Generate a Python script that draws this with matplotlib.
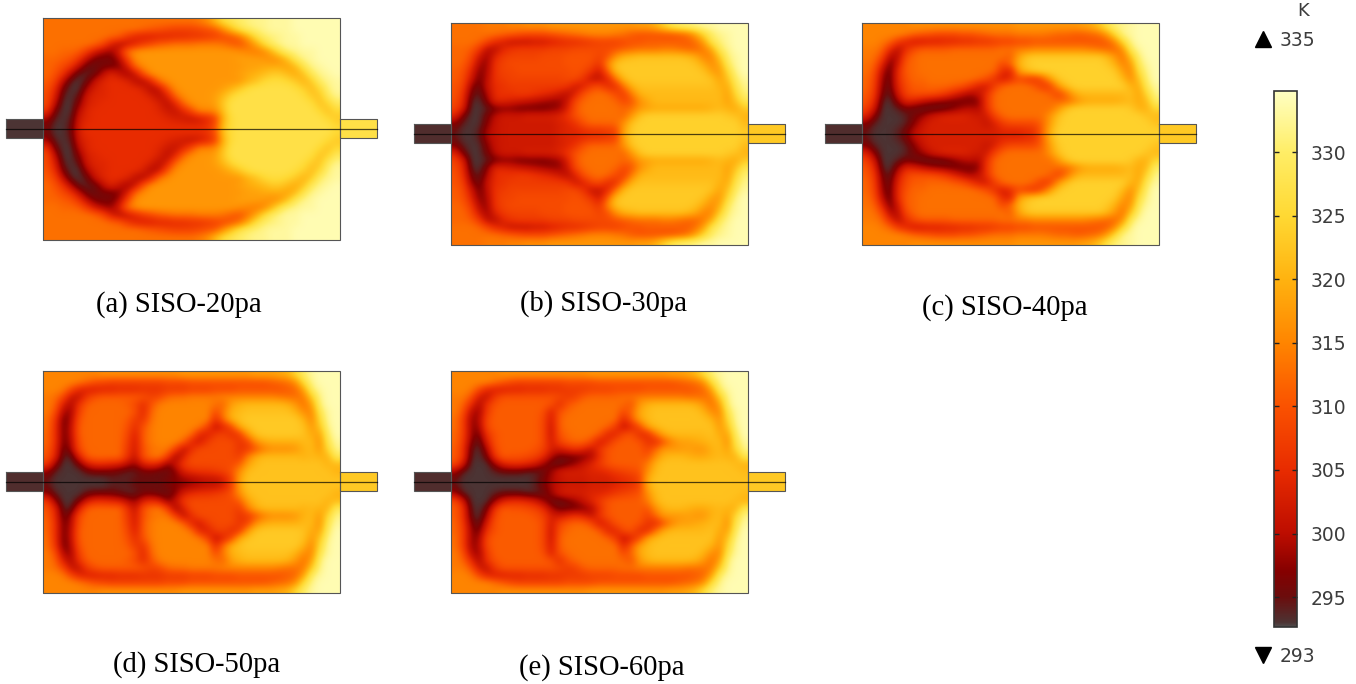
import numpy as np
import matplotlib
matplotlib.use("Agg")
import matplotlib.pyplot as plt
from matplotlib.colors import LinearSegmentedColormap, Normalize
from matplotlib.cm import ScalarMappable

# temperature (K), upper half of each plate, top row first (15 rows x 37 columns)
T_20 = [
 [313]*19+[314,316,321,326,328,330,331,332,332,333,333,333,334,334,334,334,334,334],
 [313]*12+[312,311,310,309,308,308,308,309,310,311,316,322,327,330,331,332,333,333,333,334,334,334,334,334,334],
 [313]*8+[312,311,307,304,303,303,304,304,305,305,306,306,307,308,309,310,313,319,326,330,331,332,333,333,334,334,334,334,334],
 [313]*6+[312,309,303,300,301,304,307,309,311,312,313,313,313,314,314,314,313,311,310,313,318,325,330,332,333,333,334,334,334,334,334],
 [313,313,312,312,311,307,302,299,298,303,313,316,317,317,317,317,317,317,317,317,317,317,317,317,316,315,314,315,320,327,331,332,333,333,334,334,334],
 [312,312,311,310,306,300,296,296,296,299,308,316]+[317]*12+[318,318,318,317,316,317,322,329,332,333,334,334,334],
 [312,311,309,306,300,295,295,296,296,297,302,312,316]+[317]*12+[318,318,319,319,319,318,321,328,332,333,334,334],
 [312,310,306,299,294,294,295,300,304,301,298,301,310,316]+[317]*10+[318,319,320,321,323,323,321,319,322,329,332,333,334],
 [311,308,300,294,293,295,301,304,305,305,304,300,299,304,313,316]+[317]*9+[320,322,325,326,326,325,323,320,323,330,332,333],
 [310,305,296,293,293,299,303,304,305,305,305,305,303,299,301,310,316,317,317,317,317,317,318,320,323,326,327,327,327,327,327,326,324,321,325,331,333],
 [309,303,294,293,295,302,304,304,305,305,305,305,305,303,300,303,312,316,317,317,317,318,321,325,327]+[327]*7+[326,323,322,329,332],
 [309,300,293,293,297,303,304,305,305,305,305,305,305,305,303,300,304,312,316,317,317,318,323,327]+[327]*9+[326,322,324,329],
 [306,296,293,293,300,304]+[305]*8+[304,302,301,304,309,315,315,316,322,327]+[327]*10+[325,322,325],
 [299,294,293,294,302,304]+[305]*9+[304,303,302,301,302,304,308,320,326]+[327]*11+[325,323],
 [296,293,293,295,303,305]+[305]*14+[306,310,322,326]+[327]*12+[325],
]
T_30 = [
 [313]*4+[314]*3+[315]*2+[316]*3+[317]*11+[318,318,320,324,328,330,331,332,333,333,334,334,334,334],
 [313]*6+[312,311,310,309,309,309,310,311,312,313,314,315,315,315,314,313,311,310,310,310,310,310,311,313,318,325,330,332,333,334,334],
 [313,313,313,312,309,305,303,301,301,301,302,302,303,304,305,305,306,307,308,308,308,309,310,310,311,311,311,311,311,311,313,318,328,331,333,334,334],
 [312,312,311,307,300,300,304,306,307,307,307,307,308,308,308,309,309,309,309,309,310,311,312,313,313,313,314,314,313,312,312,314,319,329,332,334,334],
 [312,312,309,302,298,304,307,308,308,308,308,309,309,309,310,310,310,310,308,310,316,320,321,322,322,322,322,322,322,321,319,315,315,323,331,333,334],
 [312,311,307,299,298,306,308,309,309,309,309,309,309,309,310,310,310,309,306,315,322]+[323]*9+[322,319,316,319,329,333,334],
 [311,310,304,297,299,306,308,308]+[309]*7+[310,309,306,302,311,321]+[323]*10+[322,318,317,325,332,334],
 [311,309,302,296,300,306,307,308]+[308]*6+[309,309,306,301,301,304,313,321]+[323]*10+[322,318,322,330,333],
 [310,308,298,295,301,305,306,307]+[307]*5+[307,306,302,303,308,309,305,305,313,320]+[322]*9+[322,320,319,328,332],
 [310,306,296,294,299,305,306,306,307,307,306,305,304,302,300,303,310,312,313,312,309,307,314,320]+[321]*9+[321,318,325,331],
 [309,305,294,293,297,304,304,303,302,301,300,299,298,298,301,309,312,313,313,313,312,309,310,316,319]+[321]*9+[318,322,328],
 [308,303,293,293,294,296,297,297,296,296,296,296,297,298,303,310,313,313,313,313,313,312,313,317,318]+[319]*7+[320,321,320,319,323],
 [304,296,293,293,296,300,302,302,302,303,303,303,303,304,306,310,312,313,313,313,313,312,317,322]+[324]*10+[323,322,320],
 [297,294,293,293,297,301,302]+[302]*5+[302,303,304,306,310,312,312,312,312,316,322]+[324]*12+[324,321],
 [295,293,293,294,299,301]+[302]*7+[303,304,304,305,306,306,307,308,318,323]+[324]*13+[323],
]
T_40 = [
 [315]*6+[316]*13+[317]*8+[318,319,322,327,331,332,333,334,334,334],
 [315]*5+[314,312,311,310,309,309,309,310,310,311,312,313,313,313,314,314,314,314,313,312,312,311,311,312,313,317,325,332,333,334,334,334],
 [315,315,314,312,307,304,302,302,303,303,304,304,305,305,306,306,307,308,308,309,309,310,310,310,310,310,310,310,310,310,311,315,325,332,334,334,334],
 [314,314,312,305,300,305,309,311,311,311,311,312,312,312,312,312,312,313,313,314,314,315,315,315,315,315,315,315,314,313,312,312,316,329,333,334,334],
 [314,313,309,299,300,309,312]+[313]*11+[311,318,322]+[323]*9+[321,317,313,322,331,334,334],
 [313,312,304,296,302,311,312]+[313]*10+[309,312,320,323]+[324]*9+[323,320,315,317,329,333,334],
 [313,310,300,295,305,311,312]+[313]*9+[312,305,303,317,321,323]+[324]*9+[323,318,315,326,332,334],
 [312,309,298,295,305,310,312,312]+[313]*6+[312,310,306,302,305,309,307,306,310,318,323]+[324]*7+[321,316,322,331,334],
 [312,308,297,295,304,309,311,311,312,312,312,311,310,307,303,302,307,312,313,313,313,311,307,308,317,322]+[324]*7+[320,319,329,333],
 [311,307,296,294,302,308,310,310,310,309,307,304,301,299,301,305,312]+[313]*6+[311,308,313,319]+[321]*6+[322,318,325,332],
 [310,305,294,293,298,304,303,301,299,298,297,296,296,296,297,306,312]+[313]*7+[312,312,315,318,319,319,319,319,320,321,319,321,330],
 [308,302,293,293,294,296,295,294,294,294,295,297,299,300,299,305,312]+[313]*7+[317,322]+[324]*7+[323,320,320,325],
 [304,297,293,293,293,294,296,298,301,303,304,304,304,303,302,302,308,312]+[313]*5+[317,322]+[324]*10+[322,321],
 [297,294,293,293,293,294,297,301,303]+[303]*5+[303,301,303,307,309,309,309,309,312,318,323]+[324]*11+[322],
 [295,293,293,293,294,296,300,302]+[303]*7+[303,303,304,304,304,305,306,312,320]+[324]*13,
]
T_50 = [
 [315]*7+[316]*10+[317]*8+[317,318,318,318,319,320,325,330,333,334,334,334],
 [315]*4+[314,312,310,309,308,308,308,308,308,308,308,309,309,309,310,310,310,310,310,310,310,310,310,310,311,312,313,316,326,332,334,334,334],
 [315,315,314,309,304,303,303,304,304,305,305,305,306,306,306,307,307,307,308,308,308,309,309,309,310,310,310,310,310,310,311,312,318,330,333,334,334],
 [314,313,309,301,301,307,310,311,311,311,311,311,310,308,309,312,313,313,314,314,314,314,315,315,315,315,315,315,315,314,313,313,314,323,332,334,334],
 [314,312,303,299,306,311,312,312,312,312,311,309,305,310,314]+[315]*6+[313,312,318,320]+[321]*5+[320,317,313,318,331,334,334],
 [314,310,299,298,308,312,312,312,312,312,312,310,304,312,315]+[315]*6+[309,314,320,321]+[322]*6+[320,316,315,328,333,334],
 [313,307,296,299,310]+[312]*5+[311,307,306,313,315]+[315]*6+[305,313,320,322]+[323]*7+[320,315,325,333,334],
 [313,306,296,300,311]+[312]*5+[310,305,310,314]+[315]*5+[314,308,301,304,309,319,322]+[323]*6+[322,317,322,332,334],
 [312,306,296,300,311]+[312]*5+[309,303,311,314]+[315]*4+[313,304,303,307,308,305,307,317,322]+[323]*5+[322,319,318,330,334],
 [312,306,296,299,310]+[312]*5+[308,302,311,314]+[315]*3+[312,304,302,307,309,309,309,306,308,316,319]+[320]*4+[321,321,316,328,333],
 [311,305,295,298,309]+[312]*5+[307,302,310,313,314,314,308,300,305,309,309,309,309,309,306,307,310,314,316,316,316,317,320,321,317,325,332],
 [310,304,294,294,303,311]+[312]*4+[306,301,310,313,314,308,298,303,309]+[309]*5+[307,314,319,321]+[321]*4+[320,321,320,320,329],
 [307,298,293,293,296,302,305,305,304,303,300,298,303,305,303,297,301,307]+[309]*6+[311,318,321]+[322]*7+[322,320,321],
 [298,294,293,293,293,295,296,296,296,295,294,294,296,296,295,295,297,303,305,306,306,307,308,310,316,321]+[322]*10+[320],
 [295]+[293]*7+[294,294,294,295,295,295,295,296,297,298,299,300,301,301,303,308,318,322]+[322]*11,
]
T_60 = [
 [315]*6+[316]*11+[317]*10+[318,318,319,321,326,331,333,334,334,334],
 [315]*5+[313,311,309,308,308,308,308,308,308,309,309,309,309,310,310,310,310,310,310,310,310,310,310,311,312,313,316,326,332,334,334,334],
 [315,315,314,309,304,303,303,304,304,305,305,305,306,306,307,307,307,308,308,308,309,309,309,309,310,310,310,310,310,310,311,312,318,330,333,334,334],
 [314,314,310,302,301,307,310,310,310,310,310,310,310,309,307,308,311,312,312,312,312,313,313,314,314,314,314,314,314,313,313,313,314,323,332,334,334],
 [314,312,305,299,306,310]+[311]*6+[310,305,310,312]+[313]*5+[312,310,317,320]+[321]*5+[320,317,313,318,331,334,334],
 [314,310,300,298,307,311]+[311]*5+[310,303,310,312]+[313]*6+[309,312,319,321]+[322]*6+[320,316,315,328,333,334],
 [313,308,298,299,309,311]+[311]*5+[309,302,311,313]+[313]*6+[304,311,318,321]+[322]*7+[320,316,325,333,334],
 [313,308,298,298,309,311]+[311]*5+[309,301,311,313]+[313]*4+[312,307,301,304,309,318,321]+[322]*6+[322,317,322,332,334],
 [312,308,298,296,306,310]+[311]*5+[309,301,310,312]+[313]*3+[311,304,304,309,310,305,305,313,319]+[321]*5+[322,319,318,330,334],
 [312,307,297,294,303,310]+[311]*5+[309,302,308,311,312,312,309,302,305,310,311,311,310,306,305,310,315,318,318,319,320,321,321,316,328,333],
 [311,306,295,293,299,309]+[311]*4+[310,308,303,302,304,306,304,301,306,310,311,311,311,311,308,312,317,317,317,318,317,317,320,321,318,325,332],
 [311,306,294,293,296,306,311,310,310,309,308,305,299,296,296,296,297,299,305,310,311,311,311,311,310,316,320,321,321,320,319,319,320,321,320,320,328],
 [309,302,293,293,293,298,303,305,305,304,302,298,295,294,296,298,301,304,307,310,311,311,311,311,314,320]+[322]*8+[322,321,320],
 [299,294,293,293,293,294,295,295,295,294,294,295,298,302,303,303,303,304,304,305,307,308,309,310,316,321]+[322]*10+[321],
 [295]+[293]*7+[293,293,294,296,299,301,302,302,302,303,303,303,304,305,306,308,319,322]+[322]*11,
]
PANEL_FIELDS = [T_20, T_30, T_40, T_50, T_60]
INLET_T = [293.0, 293.3, 293.3, 293.3, 293.3]
OUTLET_T = [327, 323, 323, 323, 323]
CAPTIONS = ["(a) SISO-20pa", "(b) SISO-30pa", "(c) SISO-40pa", "(d) SISO-50pa", "(e) SISO-60pa"]
CBAR_TICKS = [295, 300, 305, 310, 315, 320, 325, 330]
CBAR_MIN, CBAR_MAX = 292.65, 334.8

# layout in reference pixels: plate left, top; caption centre x, y
PLATES = [(43, 18), (451, 23), (862, 23), (43, 371), (451, 371)]
CAPTION_POS = [(179, 305), (603, 304), (1005, 308), (197, 665), (602, 668)]
PW, PH, STUB_L, STUB_H = 296.5, 221.5, 37.5, 19

stops = [(292.65, (0.31, 0.29, 0.29)), (293.0, (0.30, 0.20, 0.20)), (295, (0.42, 0.05, 0.05)),
         (297, (0.52, 0.0, 0.0)),
         (300, (0.74, 0.05, 0.0)), (305, (0.91, 0.17, 0.0)), (310, (0.98, 0.32, 0.0)),
         (315, (1.0, 0.52, 0.0)), (320, (1.0, 0.70, 0.06)), (325, (1.0, 0.85, 0.20)),
         (330, (1.0, 0.93, 0.40)), (334.8, (1.0, 1.0, 0.76))]
cmap = LinearSegmentedColormap.from_list(
    "thermal", [((v - CBAR_MIN) / (CBAR_MAX - CBAR_MIN), c) for v, c in stops], N=1024)
norm = Normalize(CBAR_MIN, CBAR_MAX)

fig = plt.figure(figsize=(13.56, 6.84), dpi=100)
ax = fig.add_axes([0, 0, 1, 1])
ax.axis("off")

def draw_rect(x, y, w, h, lw=0.8):
    ax.plot([x, x + w, x + w, x, x], [y, y, y + h, y + h, y],
            color="#555555", lw=lw, solid_joinstyle="miter", zorder=4)

for field, (px, py), t_in, t_out in zip(PANEL_FIELDS, PLATES, INLET_T, OUTLET_T):
    half = np.array(field, float)
    full = np.vstack([half, half[::-1]])
    ax.imshow(full, cmap=cmap, norm=norm, extent=(px, px + PW + 0.5, py + PH + 1.5, py),
              interpolation="bicubic", interpolation_stage="data", aspect="auto", zorder=2)
    cy = py + PH / 2
    ax.imshow([[t_in]], cmap=cmap, norm=norm, aspect="auto", zorder=2,
              extent=(px - STUB_L, px, cy + STUB_H / 2, cy - STUB_H / 2))
    ax.imshow([[t_out]], cmap=cmap, norm=norm, aspect="auto", zorder=2,
              extent=(px + PW, px + PW + STUB_L, cy + STUB_H / 2, cy - STUB_H / 2))
    draw_rect(px, py, PW, PH)
    draw_rect(px - STUB_L, cy - STUB_H / 2, STUB_L, STUB_H)
    draw_rect(px + PW, cy - STUB_H / 2, STUB_L, STUB_H)
    ax.plot([px - STUB_L, px + PW + STUB_L], [cy, cy], color="black", lw=0.9, alpha=0.7, zorder=5)

for cap, (cx, cy) in zip(CAPTIONS, CAPTION_POS):
    ax.text(cx, cy, cap, family="Liberation Serif", fontsize=20.6, ha="center", va="center", color="black")

ax.set_xlim(0, 1356)
ax.set_ylim(684, 0)

# colour bar
cax = fig.add_axes([1274 / 1356, 1 - 627 / 684, 23 / 1356, 536 / 684])
cb = fig.colorbar(ScalarMappable(norm=norm, cmap=cmap), cax=cax)
cax.set_yticks(CBAR_TICKS)
cax.tick_params(axis="y", which="both", direction="in", left=True, right=True, length=3.6, width=1,
                labelsize=13.5, labelcolor="#3c3c3c", pad=10, color="#222222")
cax.minorticks_off()
cb.outline.set_edgecolor("#333333")
cb.outline.set_linewidth(1.2)

txt_col = "#3c3c3c"
ax.text(1303, 11, "K", fontsize=13, color=txt_col, ha="center", va="center")
ax.plot([1263], [39], marker="^", ms=11.5, color="black", zorder=5)
ax.text(1280, 41, "335", fontsize=13.5, color=txt_col, ha="left", va="center")
ax.plot([1263], [655], marker="v", ms=11.5, color="black", zorder=5)
ax.text(1280, 656, "293", fontsize=13.5, color=txt_col, ha="left", va="center")

fig.savefig("out.png", dpi=100)
